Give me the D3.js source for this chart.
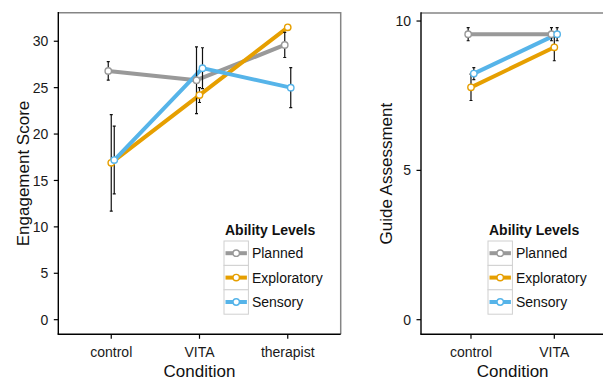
<!DOCTYPE html>
<html lang="en">
<head>
    <meta charset="UTF-8">
    <title>Engagement and Guide Assessment by Condition</title>
    <script src="https://d3js.org/d3.v7.min.js"></script>
    <style>
        body { margin: 0; background: #fff; }
        svg { display: block; font-family: "Liberation Sans", Arial, Helvetica, sans-serif; }
        .tick-label { font-size: 14px; fill: #1a1a1a; }
        .axis-title { font-size: 17px; fill: #111; }
        .legend-title { font-size: 14px; font-weight: bold; fill: #111; }
        .legend-label { font-size: 14px; fill: #111; }
    </style>
</head>
<body>
    <svg id="chart" width="603" height="380"></svg>

    <script>
        // Categories
        const levels = ["Planned", "Exploratory", "Sensory"];
        const levelColors = ["#999999", "#E69F00", "#56B4E9"];

        // Left panel: Engagement Score
        const engConditions = ["control", "VITA", "therapist"];
        const engPlanned = [26.8, 25.8, 29.6];
        const engExploratory = [16.9, 24.2, 31.5];
        const engSensory = [17.2, 27.1, 25.0];
        const engPlannedErr = [1.0, 3.6, 1.35];
        const engExploratoryErr = [5.2, 0.8, null];
        const engSensoryErr = [3.65, 2.2, 2.15];
        const engTicks = [0, 5, 10, 15, 20, 25, 30];

        // Right panel: Guide Assessment
        const guideConditions = ["control", "VITA"];
        const guidePlanned = [9.56, 9.56];
        const guideExploratory = [7.78, 9.12];
        const guideSensory = [8.24, 9.56];
        const guidePlannedErr = [0.22, 0.22];
        const guideExploratoryErr = [0.44, 0.45];
        const guideSensoryErr = [0.2, 0.22];
        const guideTicks = [0, 5, 10];

        const svg = d3.select("#chart");

        function buildSeries(conditions, means, errs) {
            return levels.map((lvl, i) => ({
                level: lvl,
                idx: i,
                color: levelColors[i],
                values: conditions.map((c, j) => ({ cond: c, mean: means[i][j], err: errs[i][j] }))
            }));
        }

        function drawPanel(opt) {
            const series = buildSeries(opt.conditions, opt.means, opt.errs);
            const g = svg.append("g");

            // y domain: include 0, cover error bars, 5% expansion like ggplot
            let hi = 0, lo = 0;
            series.forEach(s => s.values.forEach(v => {
                const e = v.err || 0;
                hi = Math.max(hi, v.mean + e);
                lo = Math.min(lo, v.mean - e);
            }));
            const pad = (hi - lo) * 0.05;
            const y = d3.scaleLinear().domain([lo - pad, hi + pad]).range([opt.bottom, opt.top]);
            const x = d3.scalePoint().domain(opt.conditions).range([opt.left, opt.right]).padding(0.6);
            const dodge = i => (i - 1) * 0.034 * x.step();
            const px = (d, i) => x(d.cond) + dodge(i);

            // panel border (top/right grey)
            g.append("path")
                .attr("d", `M${opt.left},${opt.top}H${opt.right}V${opt.bottom}`)
                .attr("fill", "none")
                .attr("stroke", "#858585")
                .attr("stroke-width", 1.5);

            // lines
            const line = d3.line();
            series.forEach(s => {
                g.append("path")
                    .attr("d", line(s.values.map(v => [px(v, s.idx), y(v.mean)])))
                    .attr("fill", "none")
                    .attr("stroke", s.color)
                    .attr("stroke-width", 4)
                    .attr("stroke-linejoin", "round");
            });

            // error bars
            series.forEach(s => {
                s.values.filter(v => v.err != null).forEach(v => {
                    const cx = px(v, s.idx);
                    const y1 = y(v.mean + v.err), y2 = y(v.mean - v.err);
                    g.append("path")
                        .attr("d", `M${cx},${y1}V${y2}M${cx - 1.5},${y1}H${cx + 1.5}M${cx - 1.5},${y2}H${cx + 1.5}`)
                        .attr("fill", "none")
                        .attr("stroke", "#111")
                        .attr("stroke-width", 1.2);
                });
            });

            // points
            series.forEach(s => {
                g.selectAll(null)
                    .data(s.values)
                    .enter()
                    .append("circle")
                    .attr("cx", v => px(v, s.idx))
                    .attr("cy", v => y(v.mean))
                    .attr("r", 3.2)
                    .attr("fill", "#fff")
                    .attr("stroke", s.color)
                    .attr("stroke-width", 1.4);
            });

            // y axis
            const yAxis = g.append("g");
            yAxis.append("line")
                .attr("x1", opt.left).attr("x2", opt.left)
                .attr("y1", opt.top - 0.7).attr("y2", opt.bottom)
                .attr("stroke", "#000").attr("stroke-width", 1.4);
            opt.ticks.forEach(t => {
                yAxis.append("line")
                    .attr("x1", opt.left - 4.5).attr("x2", opt.left)
                    .attr("y1", y(t)).attr("y2", y(t))
                    .attr("stroke", "#000").attr("stroke-width", 1.2);
                yAxis.append("text")
                    .attr("class", "tick-label")
                    .attr("x", opt.left - 10)
                    .attr("y", y(t))
                    .attr("dy", "0.36em")
                    .attr("text-anchor", "end")
                    .text(t);
            });

            // x axis
            const xAxis = g.append("g");
            xAxis.append("line")
                .attr("x1", opt.left - 0.7).attr("x2", opt.right)
                .attr("y1", opt.bottom).attr("y2", opt.bottom)
                .attr("stroke", "#000").attr("stroke-width", 1.4);
            opt.conditions.forEach(c => {
                xAxis.append("line")
                    .attr("x1", x(c)).attr("x2", x(c))
                    .attr("y1", opt.bottom).attr("y2", opt.bottom + 4.5)
                    .attr("stroke", "#000").attr("stroke-width", 1.2);
                xAxis.append("text")
                    .attr("class", "tick-label")
                    .attr("x", x(c))
                    .attr("y", opt.bottom + 22.5)
                    .attr("text-anchor", "middle")
                    .text(c);
            });

            // axis titles
            g.append("text")
                .attr("class", "axis-title")
                .attr("x", (opt.left + opt.right) / 2)
                .attr("y", 377)
                .attr("text-anchor", "middle")
                .text("Condition");
            g.append("text")
                .attr("class", "axis-title")
                .attr("transform", `translate(${opt.yTitleX},${(opt.top + opt.bottom) / 2}) rotate(-90)`)
                .attr("text-anchor", "middle")
                .text(opt.yTitle);

            // legend
            const lg = g.append("g").attr("transform", `translate(${opt.legendX},${opt.legendY})`);
            lg.append("text")
                .attr("class", "legend-title")
                .attr("x", 1)
                .attr("y", -6)
                .text("Ability Levels");
            const key = 24.4;
            levels.forEach((lvl, i) => {
                const ky = i * key;
                lg.append("rect")
                    .attr("x", 0).attr("y", ky)
                    .attr("width", key).attr("height", key)
                    .attr("fill", "#fff")
                    .attr("stroke", "#d0d0d0")
                    .attr("stroke-width", 1);
                lg.append("line")
                    .attr("x1", 1.5).attr("x2", key - 1.5)
                    .attr("y1", ky + key / 2).attr("y2", ky + key / 2)
                    .attr("stroke", levelColors[i])
                    .attr("stroke-width", 4);
                lg.append("circle")
                    .attr("cx", key / 2).attr("cy", ky + key / 2)
                    .attr("r", 3.2)
                    .attr("fill", "#fff")
                    .attr("stroke", levelColors[i])
                    .attr("stroke-width", 1.4);
                lg.append("text")
                    .attr("class", "legend-label")
                    .attr("x", key + 3.5)
                    .attr("y", ky + key / 2)
                    .attr("dy", "0.36em")
                    .text(lvl);
            });
        }

        drawPanel({
            conditions: engConditions,
            means: [engPlanned, engExploratory, engSensory],
            errs: [engPlannedErr, engExploratoryErr, engSensoryErr],
            ticks: engTicks,
            left: 58.3, right: 340.7, top: 12.7, bottom: 334.3,
            yTitle: "Engagement Score", yTitleX: 29,
            legendX: 224, legendY: 241
        });

        drawPanel({
            conditions: guideConditions,
            means: [guidePlanned, guideExploratory, guideSensory],
            errs: [guidePlannedErr, guideExploratoryErr, guideSensoryErr],
            ticks: guideTicks,
            left: 421, right: 604.3, top: 13, bottom: 334.3,
            yTitle: "Guide Assessment", yTitleX: 391.5,
            legendX: 488, legendY: 241
        });
    </script>
</body>
</html>
